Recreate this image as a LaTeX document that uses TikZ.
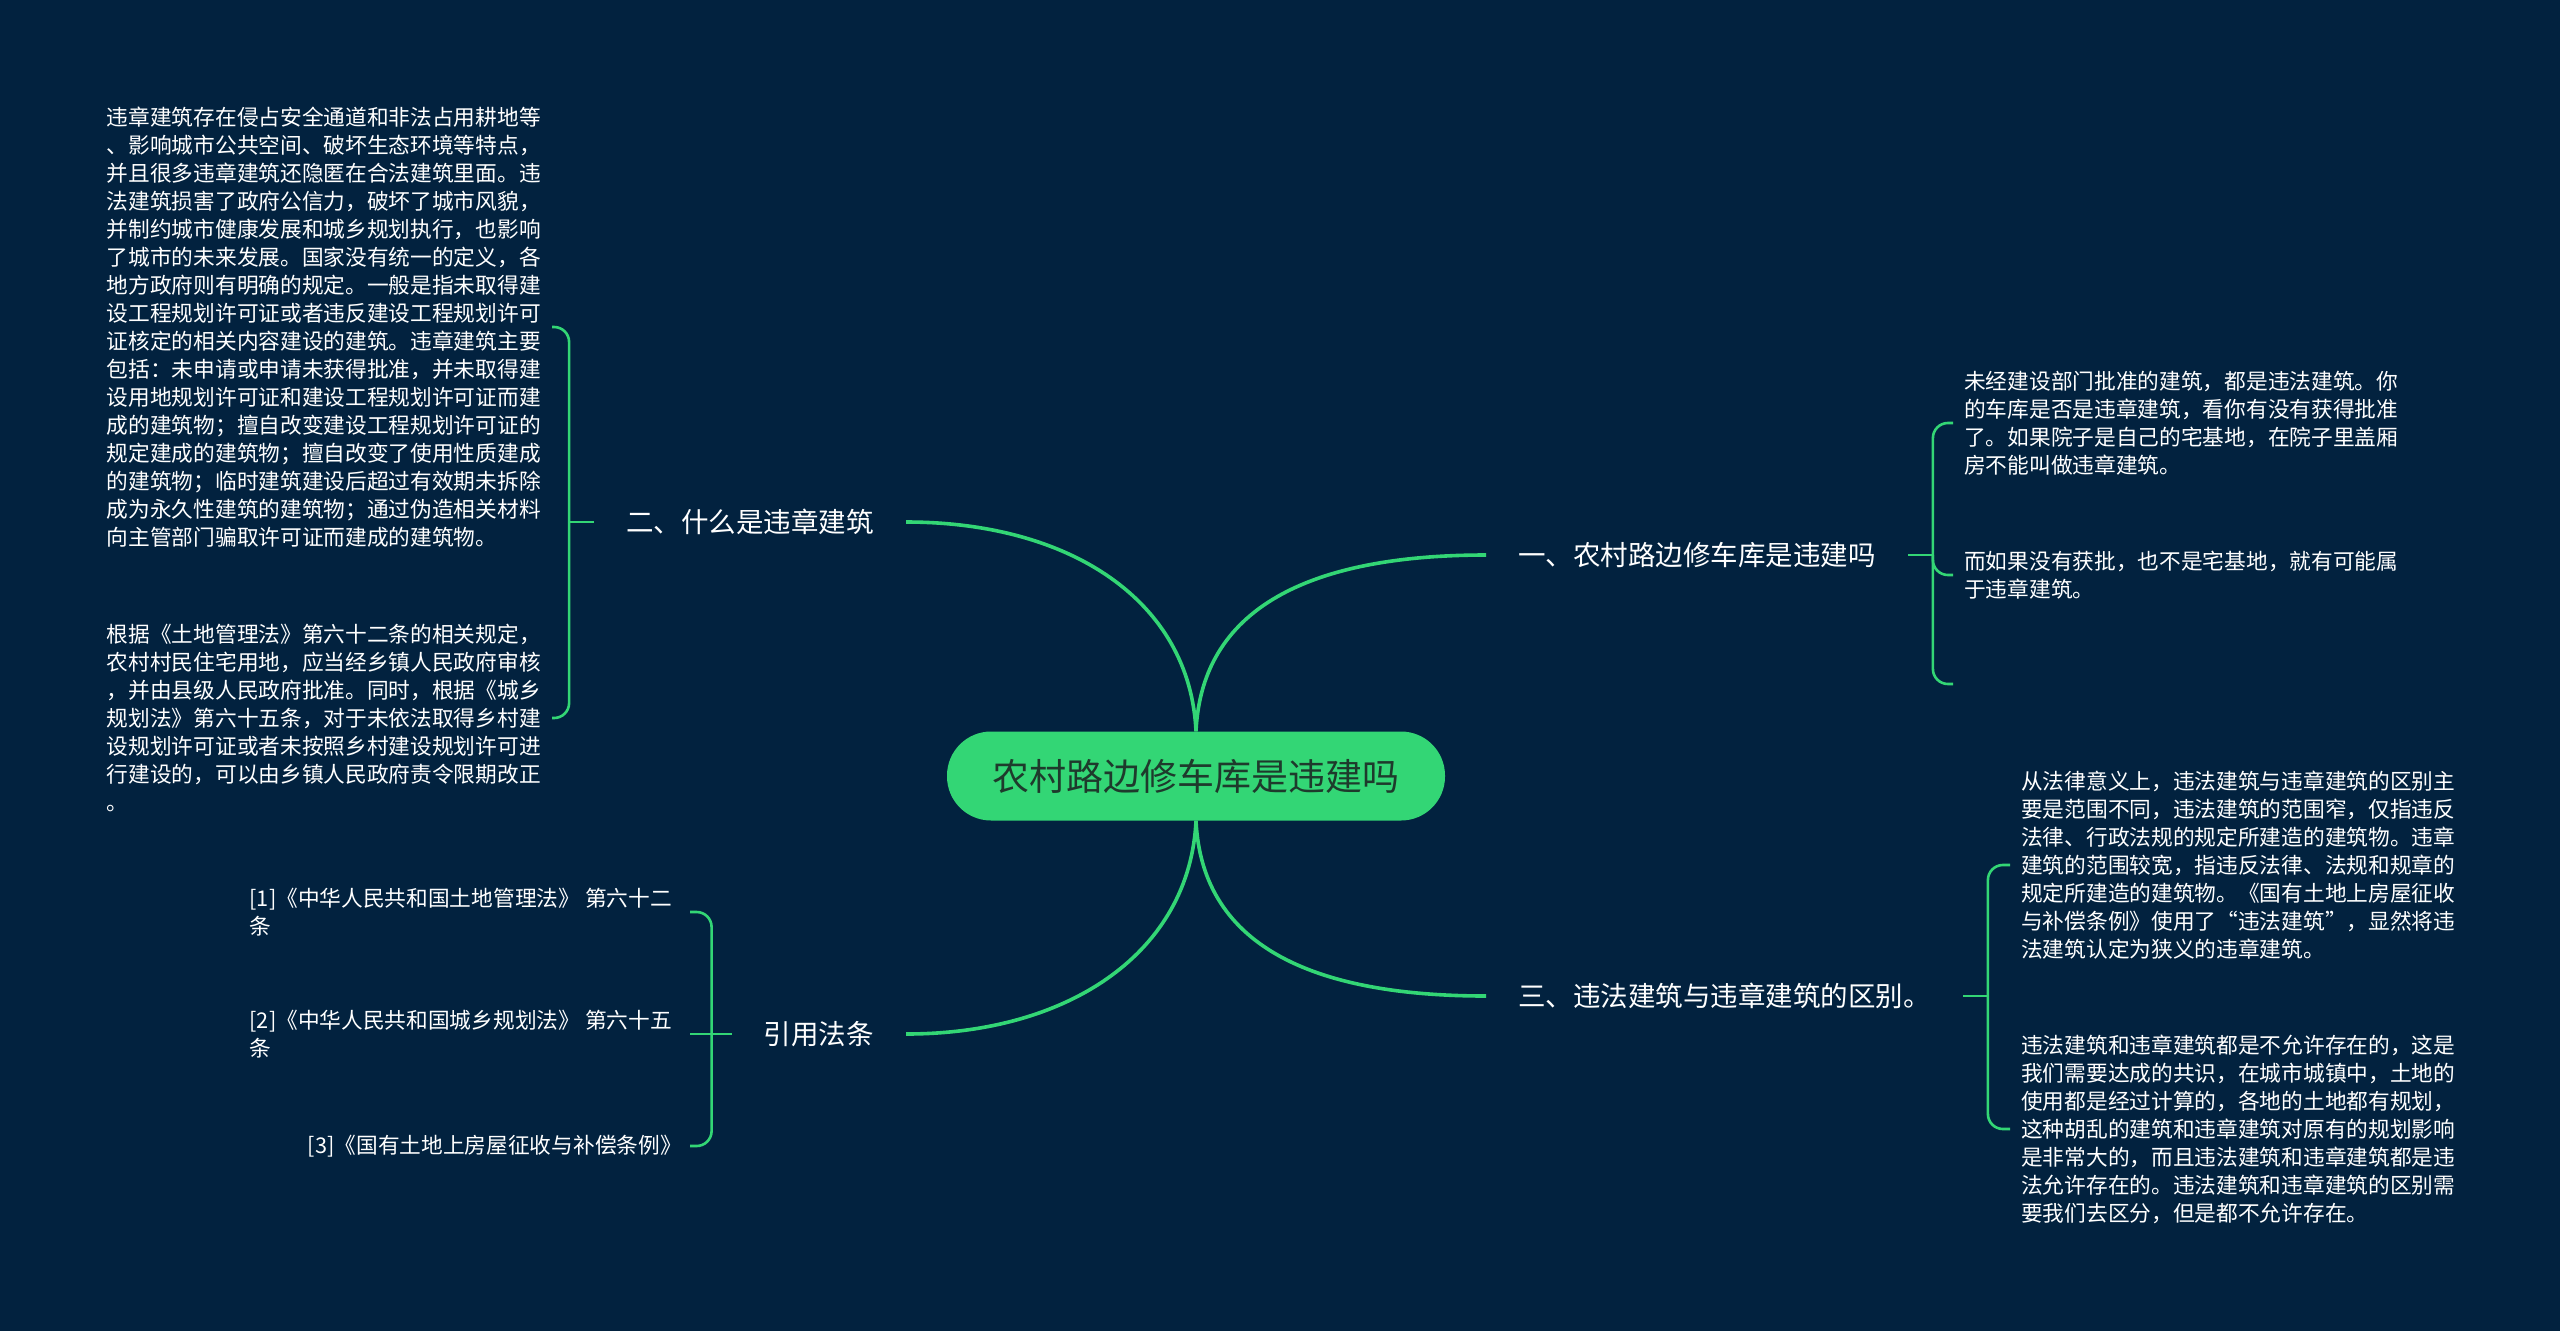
\documentclass[tikz,border=0pt]{standalone}
\usepackage{fontspec}
\newfontfamily\cjk{Noto Sans CJK SC}
\usetikzlibrary{positioning}
\definecolor{bgnavy}{HTML}{02223F}
\definecolor{leafgreen}{HTML}{33D675}
\definecolor{rootink}{HTML}{1E3A2C}
\begin{document}
\begin{tikzpicture}[x=1pt, y=-1pt,
  rootbox/.style={fill=leafgreen, rounded corners=44pt, minimum width=498pt, minimum height=89pt,
    text=rootink, font=\cjk\fontsize{37}{44}\selectfont},
  topic/.style={text=white, inner xsep=32pt, inner ysep=0pt, font=\cjk\fontsize{27.5}{33}\selectfont},
  leaf/.style={text=white, align=left, inner xsep=11pt, inner ysep=0pt, font=\cjk\fontsize{21.7}{28}\selectfont},
  branch/.style={draw=leafgreen, line width=3.6pt},
  twig/.style={draw=leafgreen, line width=2.6pt, rounded corners=15pt}]

  % Background
  \fill[bgnavy] (0,0) rectangle (2560,1331);
  \useasboundingbox (0,0) rectangle (2560,1331);

  % Main node
  \node[rootbox] (root) at (1196,776) {农村路边修车库是违建吗};

  % Topics
  \node[topic, anchor=west] (b1) at (1486,555) {一、农村路边修车库是违建吗};
  \node[topic, anchor=east] (b2) at (906,522) {二、什么是违章建筑};
  \node[topic, anchor=west] (b3) at (1486,996) {三、违法建筑与违章建筑的区别。};
  \node[topic, anchor=east] (b4) at (906,1034) {引用法条};

  % Leaves
  \node[leaf, anchor=west] (c11) at (1953,423) {未经建设部门批准的建筑，都是违法建筑。你\\的车库是否是违章建筑，看你有没有获得批准\\了。如果院子是自己的宅基地，在院子里盖厢\\房不能叫做违章建筑。};
  \node[leaf, anchor=west] (c12) at (1953,575) {而如果没有获批，也不是宅基地，就有可能属\\于违章建筑。};
  \coordinate (c13) at (1953,684);

  \node[leaf, anchor=east] (c21) at (552,327) {违章建筑存在侵占安全通道和非法占用耕地等\\、影响城市公共空间、破坏生态环境等特点，\\并且很多违章建筑还隐匿在合法建筑里面。违\\法建筑损害了政府公信力，破坏了城市风貌，\\并制约城市健康发展和城乡规划执行，也影响\\了城市的未来发展。国家没有统一的定义，各\\地方政府则有明确的规定。一般是指未取得建\\设工程规划许可证或者违反建设工程规划许可\\证核定的相关内容建设的建筑。违章建筑主要\\包括：未申请或申请未获得批准，并未取得建\\设用地规划许可证和建设工程规划许可证而建\\成的建筑物；擅自改变建设工程规划许可证的\\规定建成的建筑物；擅自改变了使用性质建成\\的建筑物；临时建筑建设后超过有效期未拆除\\成为永久性建筑的建筑物；通过伪造相关材料\\向主管部门骗取许可证而建成的建筑物。};
  \node[leaf, anchor=east] (c22) at (552,718) {根据《土地管理法》第六十二条的相关规定，\\农村村民住宅用地，应当经乡镇人民政府审核\\，并由县级人民政府批准。同时，根据《城乡\\规划法》第六十五条，对于未依法取得乡村建\\设规划许可证或者未按照乡村建设规划许可进\\行建设的，可以由乡镇人民政府责令限期改正\\。};

  \node[leaf, anchor=west] (c31) at (2010,865) {从法律意义上，违法建筑与违章建筑的区别主\\要是范围不同，违法建筑的范围窄，仅指违反\\法律、行政法规的规定所建造的建筑物。违章\\建筑的范围较宽，指违反法律、法规和规章的\\规定所建造的建筑物。《国有土地上房屋征收\\与补偿条例》使用了“违法建筑”，显然将违\\法建筑认定为狭义的违章建筑。};
  \node[leaf, anchor=west] (c32) at (2010,1129) {违法建筑和违章建筑都是不允许存在的，这是\\我们需要达成的共识，在城市城镇中，土地的\\使用都是经过计算的，各地的土地都有规划，\\这种胡乱的建筑和违章建筑对原有的规划影响\\是非常大的，而且违法建筑和违章建筑都是违\\法允许存在的。违法建筑和违章建筑的区别需\\要我们去区分，但是都不允许存在。};

  \node[leaf, anchor=east, inner xsep=18pt] (c41) at (690,912) {[1]《中华人民共和国土地管理法》 第六十二\\条};
  \node[leaf, anchor=east, inner xsep=18pt] (c42) at (690,1034) {[2]《中华人民共和国城乡规划法》 第六十五\\条};
  \node[leaf, anchor=east, inner xsep=8pt] (c43) at (690,1146) {[3]《国有土地上房屋征收与补偿条例》};

  % Branches
  \draw[branch] (root.north) .. controls +(6,-130) and +(-165,0) .. (b1.west);
  \draw[branch] (root.north) .. controls +(-6,-130) and +(165,0) .. (b2.east);
  \draw[branch] (root.south) .. controls +(6,130) and +(-165,0) .. (b3.west);
  \draw[branch] (root.south) .. controls +(-6,130) and +(165,0) .. (b4.east);

  % Brackets
  \coordinate[right=25pt of b1] (s1);
  \coordinate[left=25pt of b2] (s2);
  \coordinate[right=25pt of b3] (s3);
  \coordinate[left=20pt of b4] (s4);
  \draw[twig] (b1.east) -- (s1);
  \draw[twig] (s1) |- (c11.west);
  \draw[twig] (s1) |- (c12.west);
  \draw[twig] (s1) |- (c13);
  \draw[twig] (b2.west) -- (s2);
  \draw[twig] (s2) |- (c21.east);
  \draw[twig] (s2) |- (c22.east);
  \draw[twig] (b3.east) -- (s3);
  \draw[twig] (s3) |- (c31.west);
  \draw[twig] (s3) |- (c32.west);
  \draw[twig] (b4.west) -- (s4);
  \draw[twig] (s4) |- (c41.east);
  \draw[twig] (s4) -- (c42.east);
  \draw[twig] (s4) |- (c43.east);
\end{tikzpicture}
\end{document}
